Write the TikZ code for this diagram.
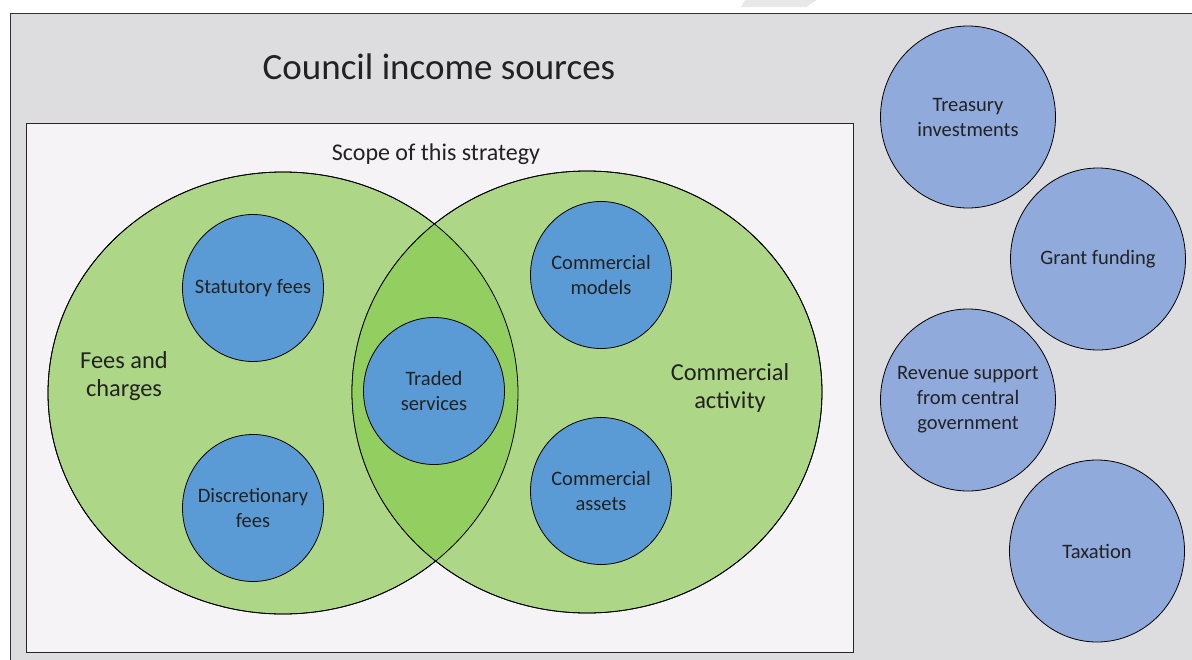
\documentclass[tikz,border=0pt]{standalone}
\usepackage{fontspec}
\setmainfont{Carlito}
\usetikzlibrary{shapes.geometric}

\definecolor{panelgrey}{HTML}{DDDCDE}
\definecolor{scopebg}{HTML}{F6F3F7}
\definecolor{areagreen}{HTML}{AED687}
\definecolor{lensgreen}{HTML}{92CE60}
\definecolor{itemblue}{HTML}{5B9BD5}
\definecolor{otherblue}{HTML}{90AADC}
\definecolor{inkgrey}{HTML}{222222}

\begin{document}
\begin{tikzpicture}[x=1pt, y=-1pt, font=\fontsize{20.5}{25}\selectfont,
  every node/.style={inner sep=0pt, outer sep=0pt, text=inkgrey},
  area/.style={ellipse, draw=black, line width=0.8pt, minimum width=470pt, minimum height=442pt},
  item/.style={ellipse, draw=black, line width=0.8pt, fill=itemblue, minimum width=141pt, minimum height=147pt},
  other/.style={ellipse, draw=black, line width=0.8pt, fill=otherblue, minimum width=175pt, minimum height=182pt},
  inside/.style={label={[align=center, font=\fontsize{20.5}{25}\selectfont, text=inkgrey]center:#1}}]
      \useasboundingbox (0,0) rectangle (1192,659);
      \clip (0,0) rectangle (1192,659);
      \fill[gray!18] (745,0) -- (817,0) -- (806,7) -- (741,7) -- cycle;
      \draw[fill=panelgrey, line width=0.9pt, draw=black!80] (10,13) rectangle (1200,670);
      \draw[fill=scopebg, line width=0.9pt, draw=black!85] (26,123) rectangle (853,652);

      \draw (439,67) node[font=\fontsize{37}{44}\selectfont] (title) {Council income sources};
      \draw (436,154) node[font=\fontsize{24}{28}\selectfont] (scope) {Scope of this strategy};

      \draw (283,393) node[area, fill=areagreen] (fees) {};
      \draw (587,392) node[area, fill=areagreen] (comm) {};
      \begin{scope}
        \clip (283,393) ellipse (235 and 221);
        \fill[lensgreen] (587,392) ellipse (235 and 221);
      \end{scope}
      \draw[line width=0.8pt] (283,393) ellipse (235 and 221);
      \draw[line width=0.8pt] (587,392) ellipse (235 and 221);

      \draw (124,376) node[align=center, font=\fontsize{24.4}{28}\selectfont] (feeslabel) {Fees and\\charges};
      \draw (730,388) node[align=center, font=\fontsize{24.4}{28}\selectfont] (commlabel) {Commercial\\activity};

      \draw (253,288) node[item, inside={Statutory fees}] (statutory) {};
      \draw (253,508) node[item, inside={Discretionary\\fees}] (discretionary) {};
      \draw (434,391) node[item, inside={Traded\\services}] (traded) {};
      \draw (601,275) node[item, inside={Commercial\\models}] (models) {};
      \draw (601,491) node[item, inside={Commercial\\assets}] (assets) {};

      \draw (968,117) node[other, inside={Treasury\\investments}] (treasury) {};
      \draw (1098,259) node[other, inside={Grant funding}] (grant) {};
      \draw (968,400) node[other, inside={Revenue support\\from central\\government}] (revenue) {};
      \draw (1097,551) node[other, inside={Taxation}] (taxation) {};
    \end{tikzpicture}
\end{document}
